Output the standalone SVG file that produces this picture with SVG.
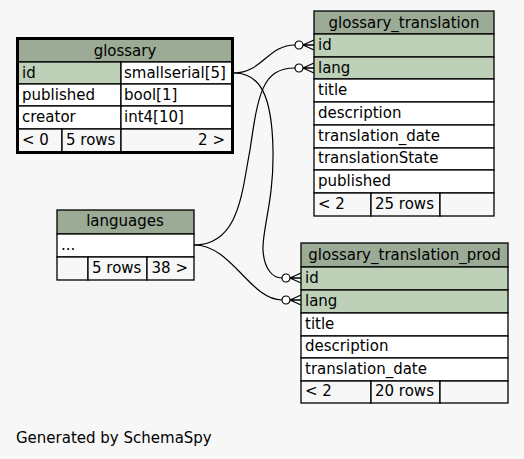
<svg xmlns="http://www.w3.org/2000/svg" width="524" height="459" viewBox="0 0 524 459">
<style>
text{font-family:"DejaVu Sans","Liberation Sans",sans-serif;font-size:15px;fill:#000}
.hd{fill:#9bab96}
.key{fill:#bed1b8}
.row{fill:#ffffff}
.ft{fill:#f7f7f7}
.cell{stroke:#000;stroke-width:1.3}
.focus{fill:none;stroke:#000;stroke-width:3}
.c{text-anchor:middle}
.e{text-anchor:end}
.edge{fill:none;stroke:#000;stroke-width:1.2}
</style>
<defs>
<g id="crow">
<path d="M-11,0 L0,-5 M-11,0 L0,0 M-11,0 L0,5" fill="none" stroke="#000" stroke-width="1.3"/>
<circle cx="-15" cy="0" r="4" fill="#fff" stroke="#000" stroke-width="1.2"/>
</g>
</defs>
<rect x="0" y="0" width="524" height="459" fill="#f7f7f7"/>

<g id="connectors">
<path class="edge" d="M234,73 C262,73 268,45 295,45"/>
<path class="edge" d="M234,73 C260,73 272,95 273,150 C274,200 262,230 263,250 C264,268 272,278 282,278"/>
<path class="edge" d="M194,245 C240,245 242,190 250,150 C258,95 262,68 295,68"/>
<path class="edge" d="M194,245 C232,245 250,300 282,300"/>
<use href="#crow" transform="translate(314,45)"/>
<use href="#crow" transform="translate(314,68)"/>
<use href="#crow" transform="translate(301,278)"/>
<use href="#crow" transform="translate(301,300)"/>
</g>

<g id="glossary">
<rect class="hd cell" x="18" y="39" width="214" height="23"/>
<rect class="key cell" x="18" y="62" width="103" height="22"/>
<rect class="row cell" x="121" y="62" width="111" height="22"/>
<rect class="row cell" x="18" y="84" width="103" height="22"/>
<rect class="row cell" x="121" y="84" width="111" height="22"/>
<rect class="row cell" x="18" y="106" width="103" height="23"/>
<rect class="row cell" x="121" y="106" width="111" height="23"/>
<rect class="ft cell" x="18" y="129" width="44" height="23"/>
<rect class="ft cell" x="62" y="129" width="59" height="23"/>
<rect class="ft cell" x="121" y="129" width="111" height="23"/>
<rect class="focus" x="17.5" y="38.5" width="215" height="114"/>
<text class="c" x="125" y="56">glossary</text>
<text x="22" y="78">id</text>
<text x="124" y="78">smallserial[5]</text>
<text x="22" y="100">published</text>
<text x="124" y="100">bool[1]</text>
<text x="22" y="122">creator</text>
<text x="124" y="122">int4[10]</text>
<text x="22" y="145">&lt; 0</text>
<text x="66" y="145">5 rows</text>
<text class="e" x="225" y="145">2 &gt;</text>
</g>

<g id="glossary_translation">
<rect class="hd cell" x="314" y="11" width="180" height="23"/>
<rect class="key cell" x="314" y="34" width="180" height="23"/>
<rect class="key cell" x="314" y="57" width="180" height="22"/>
<rect class="row cell" x="314" y="79" width="180" height="23"/>
<rect class="row cell" x="314" y="102" width="180" height="23"/>
<rect class="row cell" x="314" y="125" width="180" height="23"/>
<rect class="row cell" x="314" y="148" width="180" height="22"/>
<rect class="row cell" x="314" y="170" width="180" height="23"/>
<rect class="ft cell" x="314" y="193" width="57" height="23"/>
<rect class="ft cell" x="371" y="193" width="69" height="23"/>
<rect class="ft cell" x="440" y="193" width="54" height="23"/>
<text class="c" x="404" y="28">glossary_translation</text>
<text x="318" y="50">id</text>
<text x="318" y="73">lang</text>
<text x="318" y="95">title</text>
<text x="318" y="118">description</text>
<text x="318" y="141">translation_date</text>
<text x="318" y="163">translationState</text>
<text x="318" y="186">published</text>
<text x="318" y="209">&lt; 2</text>
<text x="375" y="209">25 rows</text>
</g>

<g id="languages">
<rect class="hd cell" x="57" y="210" width="137" height="24"/>
<rect class="row cell" x="57" y="234" width="137" height="23"/>
<rect class="ft cell" x="57" y="257" width="31" height="23"/>
<rect class="ft cell" x="88" y="257" width="59" height="23"/>
<rect class="ft cell" x="147" y="257" width="47" height="23"/>
<text class="c" x="125" y="226">languages</text>
<text x="61" y="250">...</text>
<text x="92" y="273">5 rows</text>
<text class="e" x="188" y="273">38 &gt;</text>
</g>

<g id="glossary_translation_prod">
<rect class="hd cell" x="301" y="243" width="207" height="24"/>
<rect class="key cell" x="301" y="267" width="207" height="23"/>
<rect class="key cell" x="301" y="290" width="207" height="23"/>
<rect class="row cell" x="301" y="313" width="207" height="23"/>
<rect class="row cell" x="301" y="336" width="207" height="22"/>
<rect class="row cell" x="301" y="358" width="207" height="23"/>
<rect class="ft cell" x="301" y="381" width="70" height="22"/>
<rect class="ft cell" x="371" y="381" width="69" height="22"/>
<rect class="ft cell" x="440" y="381" width="68" height="22"/>
<text class="c" x="404.5" y="260">glossary_translation_prod</text>
<text x="305" y="283">id</text>
<text x="305" y="306">lang</text>
<text x="305" y="329">title</text>
<text x="305" y="351">description</text>
<text x="305" y="374">translation_date</text>
<text x="305" y="396">&lt; 2</text>
<text x="375" y="396">20 rows</text>
</g>

<text x="16" y="443">Generated by SchemaSpy</text>
</svg>
